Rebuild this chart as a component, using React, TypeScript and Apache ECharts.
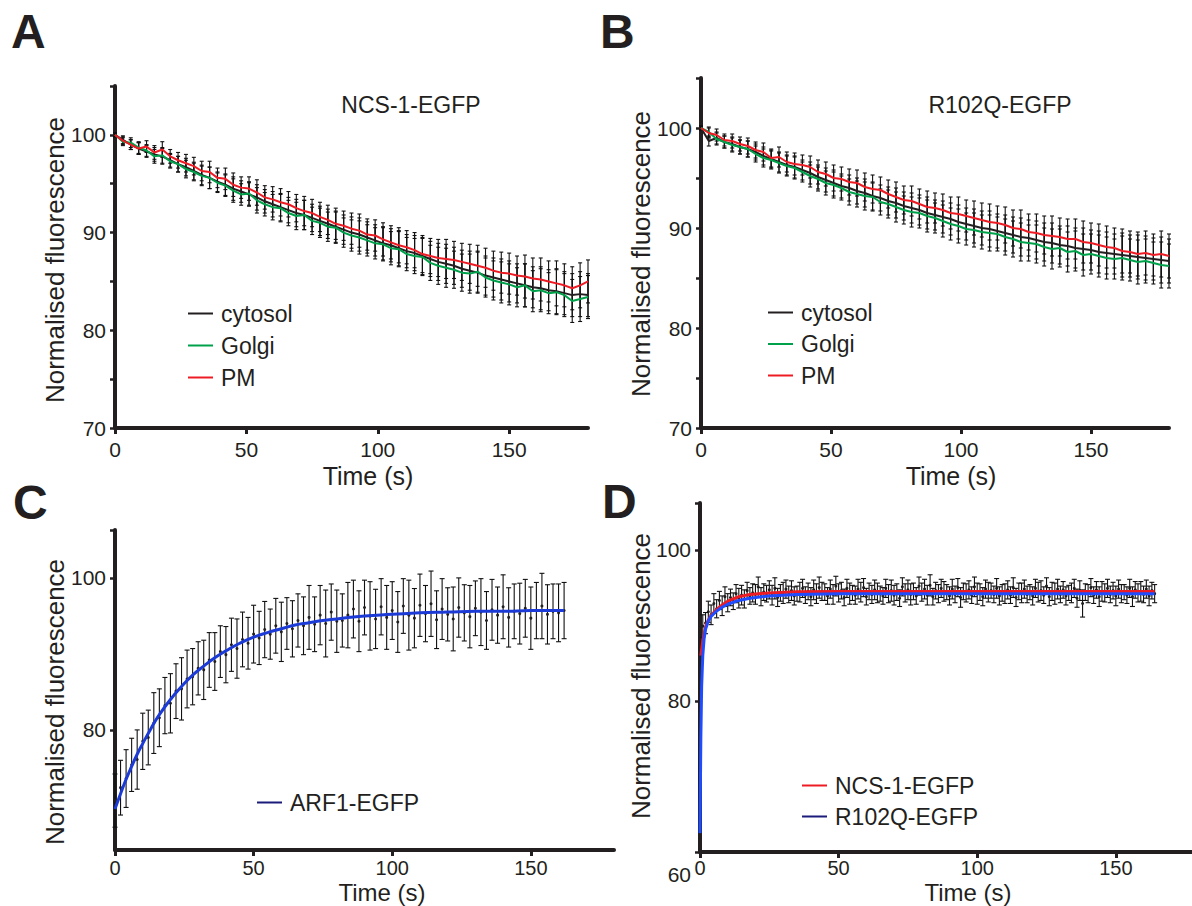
import React, { useEffect, useRef } from "react";
import * as echarts from "echarts";

// ---------- Panel A / B time base (s) ----------
const timeAB = [0,3,6,9,12,15,18,21,24,27,30,33,36,39,42,45,48,51,54,57,60,63,66,69,72,75,78,81,84,87,90,93,96,99,102,105,108,111,114,117,120,123,126,129,132,135,138,141,144,147,150,153,156,159,162,165,168,171,174,177,180];

// Panel A: NCS-1-EGFP
const aCytosol = [100.0,99.5,99.0,98.6,98.3,98.0,97.8,97.4,97.0,96.7,96.3,95.9,95.6,95.2,94.9,94.5,94.2,93.9,93.6,93.2,92.9,92.6,92.3,92.0,91.8,91.5,91.2,90.9,90.6,90.3,90.0,89.8,89.5,89.2,88.9,88.7,88.4,88.1,87.9,87.6,87.3,87.0,86.8,86.6,86.3,86.1,85.9,85.6,85.4,85.2,85.0,84.8,84.6,84.4,84.3,84.1,84.0,83.8,83.6,83.7,83.6];
const aGolgi = [100.0,99.3,99.2,98.7,98.4,97.8,97.9,97.3,97.0,96.5,96.2,95.8,95.6,95.1,94.8,94.3,93.9,94.0,93.3,92.9,92.6,92.5,92.0,91.7,91.8,91.2,91.0,90.6,90.5,90.0,89.7,89.5,89.2,88.9,88.8,88.4,88.3,87.8,87.6,87.5,86.9,86.6,86.4,86.2,85.9,85.8,86.0,85.4,85.1,84.9,84.7,84.4,84.6,84.0,84.1,83.8,83.9,83.6,83.0,83.2,83.4];
const aPM = [100.0,99.4,99.0,98.6,98.8,98.2,98.5,97.8,97.4,97.1,96.8,96.3,96.2,95.6,95.5,94.9,94.6,94.5,94.1,93.6,93.4,93.1,92.9,92.5,92.2,92.0,91.6,91.3,90.9,90.7,90.4,90.2,89.8,89.7,89.3,89.0,88.7,88.5,88.2,87.8,87.6,87.4,87.3,87.2,87.0,86.8,86.6,86.4,86.1,85.9,85.8,85.6,85.5,85.3,85.2,85.0,84.8,84.6,84.3,84.6,85.0];
const aSem = [0.2,0.4,0.5,0.6,0.6,0.7,0.8,0.7,0.8,0.9,0.9,1.0,1.1,1.0,1.1,1.2,1.1,1.2,1.3,1.2,1.3,1.4,1.3,1.4,1.5,1.4,1.5,1.5,1.6,1.5,1.6,1.7,1.6,1.6,1.7,1.7,1.8,1.7,1.8,1.9,1.8,1.9,2.0,1.9,1.9,2.0,2.1,2.0,2.0,2.1,2.1,2.0,2.2,2.1,2.2,2.1,2.3,2.2,2.2,2.3,2.2];

// Panel B: R102Q-EGFP
const bCytosol = [100.0,98.7,99.0,98.6,98.4,98.1,97.9,97.6,97.2,96.9,96.6,96.3,96.1,95.8,95.5,95.1,94.8,94.5,94.2,94.0,93.7,93.5,93.2,93.0,92.7,92.5,92.2,92.0,91.8,91.5,91.3,91.1,90.9,90.6,90.4,90.2,90.0,89.9,89.7,89.5,89.3,89.1,89.0,88.8,88.6,88.5,88.3,88.2,88.0,87.9,87.8,87.6,87.5,87.4,87.3,87.2,87.1,87.0,86.9,86.8,86.7];
const bGolgi = [100.0,99.6,98.9,98.6,98.3,98.1,97.9,97.4,97.0,96.8,96.5,96.2,96.0,95.6,95.2,94.9,94.5,94.3,94.0,93.6,93.4,93.2,93.1,92.6,92.4,92.1,91.8,91.6,91.5,91.2,91.0,90.7,90.4,90.2,89.9,89.8,89.6,89.5,89.4,89.1,88.9,88.6,88.5,88.4,88.1,87.9,88.0,87.6,87.7,87.3,87.4,87.2,87.0,86.9,87.0,86.8,86.6,86.7,86.5,86.3,86.2];
const bPM = [100.0,99.5,99.3,98.8,98.7,98.4,98.2,97.8,97.6,97.0,97.1,96.6,96.4,96.3,96.1,95.6,95.4,95.0,94.9,94.6,94.5,94.1,93.9,93.8,93.4,93.1,92.8,92.7,92.4,92.1,92.0,91.8,91.5,91.4,91.2,91.0,90.8,90.6,90.5,90.3,90.0,89.9,89.6,89.5,89.3,89.2,89.1,88.9,88.9,88.6,88.5,88.3,88.1,88.0,87.7,87.6,87.4,87.5,87.3,87.4,87.2];
const bSem = [0.2,0.5,0.6,0.6,0.7,0.7,0.8,0.8,0.9,0.9,1.0,1.0,1.1,1.0,1.1,1.2,1.2,1.3,1.2,1.3,1.3,1.4,1.4,1.3,1.4,1.5,1.4,1.5,1.5,1.6,1.5,1.6,1.6,1.7,1.6,1.7,1.7,1.8,1.7,1.8,1.8,1.9,1.8,1.9,1.9,2.0,1.9,2.0,2.0,2.1,2.0,2.1,2.1,2.0,2.2,2.1,2.2,2.2,2.1,2.3,2.2];

// Panel C: ARF1-EGFP
const timeC = [0,2,4,6,8,10,12,14,16,18,20,22,24,26,28,30,32,34,36,38,40,42,44,46,48,50,52,54,56,58,60,62,64,66,68,70,72,74,76,78,80,82,84,86,88,90,92,94,96,98,100,102,104,106,108,110,112,114,116,118,120,122,124,126,128,130,132,134,136,138,140,142,144,146,148,150,152,154,156,158,160,162];
const cMean = [70.7,72.4,73.6,75.4,76.1,78.5,79.0,80.9,81.6,83.2,83.5,85.1,85.4,86.7,87.0,88.1,87.9,89.2,89.0,90.3,89.9,91.2,90.7,91.9,91.4,92.6,92.1,93.2,92.6,93.7,92.9,94.0,93.3,94.4,93.7,94.8,93.9,95.1,94.0,95.5,94.3,94.4,95.1,95.9,94.3,96.1,95.0,94.6,96.2,94.8,95.7,94.2,96.3,95.1,94.7,96.4,95.3,96.6,94.5,95.9,95.2,94.6,96.1,95.4,94.9,96.0,95.5,94.4,95.8,95.1,96.2,94.8,95.6,95.3,96.0,94.7,95.7,96.3,95.2,95.6,95.4,95.7];
const cSem = [3.5,3.6,3.8,3.5,3.9,3.7,3.6,4.0,3.8,3.7,3.9,3.6,4.1,3.8,3.7,3.5,3.9,3.6,3.8,3.4,3.7,3.5,3.9,3.6,3.4,3.8,3.5,3.7,3.3,3.6,3.9,3.4,3.7,3.5,3.8,4.2,3.6,3.9,4.4,3.7,4.1,3.5,4.3,3.8,4.0,3.6,4.5,3.9,3.7,4.2,3.8,4.0,3.6,4.6,3.9,4.1,3.7,4.3,3.8,4.0,3.5,4.2,3.9,3.7,4.1,3.6,4.4,3.8,4.0,3.7,4.2,3.9,3.6,4.0,3.8,4.1,3.7,4.3,3.9,3.6,3.8,3.7];
const cFitTime = [0,2,4,6,8,10,13,16,20,24,28,32,36,40,45,50,55,60,65,70,75,80,90,100,110,120,130,140,150,162];
const cFit = [69.6,71.6,73.5,75.2,76.8,78.2,80.2,82.0,84.0,85.7,87.2,88.4,89.5,90.4,91.4,92.2,92.8,93.3,93.8,94.1,94.4,94.6,95.0,95.2,95.4,95.5,95.6,95.6,95.7,95.7];

// Panel D: NCS-1-EGFP vs R102Q-EGFP
const dNcsTime = [1,3,5,7,9,11,13,15,17,19,21,23,25,27,29,31,33,35,37,39,41,43,45,47,49,51,53,55,57,59,61,63,65,67,69,71,73,75,77,79,81,83,85,87,89,91,93,95,97,99,101,103,105,107,109,111,113,115,117,119,121,123,125,127,129,131,133,135,137,139,141,143,145,147,149,151,153,155,157,159,161,163];
const dNcsMean = [89.9,91.8,92.9,93.3,93.8,93.7,94.2,94.0,94.6,94.3,95.1,94.4,94.7,94.9,94.3,94.8,94.6,94.2,94.9,94.5,94.7,95.0,94.4,94.8,95.2,94.6,94.9,94.3,94.8,95.0,94.5,94.7,94.2,94.9,94.6,94.4,95.1,94.7,94.5,95.2,94.8,95.3,94.6,94.9,94.4,94.8,95.0,94.5,94.7,95.1,94.4,94.8,94.6,94.9,94.3,94.7,95.0,94.5,94.8,94.4,94.9,94.6,95.2,94.5,94.8,94.7,94.3,94.9,94.6,94.4,95.0,94.7,94.5,94.9,94.6,94.8,94.4,94.9,94.7,94.5,94.8,94.6];
const dNcsSem = [1.5,1.4,1.3,1.2,1.3,1.1,1.2,1.3,1.1,1.2,1.3,1.1,1.2,1.4,1.1,1.2,1.3,1.0,1.2,1.1,1.3,1.4,1.1,1.2,1.3,1.1,1.2,1.0,1.3,1.2,1.1,1.3,1.0,1.2,1.4,1.1,1.2,1.3,1.1,1.2,1.3,1.4,1.1,1.2,1.0,1.3,1.2,1.1,1.2,1.3,1.1,1.2,1.0,1.3,1.1,1.2,1.3,1.1,1.2,1.0,1.2,1.3,1.1,1.2,1.3,1.1,1.0,1.2,1.3,1.1,1.2,1.1,1.3,1.2,1.1,1.2,1.0,1.2,1.1,1.3,1.2,1.1];
const dR102Time = [2,4,6,8,10,12,14,16,18,20,22,24,26,28,30,32,34,36,38,40,42,44,46,48,50,52,54,56,58,60,62,64,66,68,70,72,74,76,78,80,82,84,86,88,90,92,94,96,98,100,102,104,106,108,110,112,114,116,118,120,122,124,126,128,130,132,134,136,138,140,142,144,146,148,150,152,154,156,158,160,162,164];
const dR102Mean = [90.3,91.4,92.2,92.6,93.0,93.2,93.6,93.5,93.9,94.1,93.8,94.2,94.0,93.7,94.3,94.1,93.9,94.4,94.0,93.8,94.2,94.5,93.9,94.1,94.3,93.7,94.2,94.0,94.4,93.8,94.1,94.3,93.9,94.2,94.0,93.6,94.3,94.1,93.9,94.4,94.0,93.8,94.2,94.5,93.9,94.1,93.7,94.3,94.0,94.2,93.8,94.4,94.1,93.9,94.2,94.0,93.7,94.3,94.1,93.9,94.4,94.0,93.8,94.2,94.1,93.9,94.3,93.6,92.9,94.2,94.0,93.8,94.3,94.1,93.9,94.2,94.0,93.8,94.3,94.1,93.9,94.2];
const dR102Sem = [1.4,1.3,1.2,1.3,1.2,1.1,1.3,1.2,1.1,1.3,1.2,1.1,1.3,1.2,1.4,1.1,1.2,1.3,1.1,1.2,1.3,1.2,1.1,1.3,1.2,1.1,1.4,1.2,1.3,1.1,1.2,1.3,1.1,1.2,1.3,1.1,1.2,1.4,1.1,1.2,1.3,1.1,1.2,1.3,1.2,1.1,1.3,1.2,1.1,1.4,1.2,1.3,1.1,1.2,1.3,1.1,1.2,1.3,1.1,1.2,1.3,1.1,1.2,1.4,1.1,1.2,1.3,1.2,1.8,1.2,1.1,1.3,1.2,1.1,1.3,1.2,1.1,1.3,1.2,1.1,1.3,1.2];
const dNcsFitTime = [0.3,1,2,3,4,6,8,10,14,18,25,35,50,100,164];
const dNcsFit = [86.0,88.0,89.8,90.7,91.3,92.1,92.7,93.2,93.8,94.1,94.3,94.45,94.5,94.5,94.5];
const dR102FitTime = [0,0.3,0.6,1,1.5,2,3,4,6,8,10,14,18,25,35,50,100,164];
const dR102Fit = [62.5,75.0,82.0,86.0,88.3,89.5,90.6,91.2,91.9,92.4,92.8,93.3,93.6,93.9,94.1,94.2,94.2,94.2];

// Tick labels
const xTickValues = [0, 50, 100, 150];
const abYTicks = [70, 75, 80, 85, 90, 95, 100, 105];
const abYLabels = [70, 80, 90, 100];
const cYLabels = [80, 100];
const dYLabels = [60, 80, 100];

const FONT = "'Liberation Sans', Arial, Helvetica, sans-serif";
const INK = "#231f20";
const RED = "#ed1c24";
const GREEN = "#00a14b";
const BLUE_C = "#1c3bd6";
const BLUE_D = "#1f4cff";
const NAVY = "#1b1b7a";

const zip = (t: number[], v: number[]) => t.map((x, i) => [x, v[i]]);
const zip3 = (t: number[], v: number[], e: number[]) => t.map((x, i) => [x, v[i], e[i]]);

function errRender(cap: number, dot: boolean) {
  return (params: any, api: any) => {
    const x = api.value(0), y = api.value(1), e = api.value(2);
    const top = api.coord([x, y + e]);
    const bot = api.coord([x, y - e]);
    const mid = api.coord([x, y]);
    const style = { stroke: "#111111", lineWidth: 1.1 };
    const children: any[] = [
      { type: "line", shape: { x1: top[0], y1: top[1], x2: bot[0], y2: bot[1] }, style },
      { type: "line", shape: { x1: top[0] - cap, y1: top[1], x2: top[0] + cap, y2: top[1] }, style },
      { type: "line", shape: { x1: bot[0] - cap, y1: bot[1], x2: bot[0] + cap, y2: bot[1] }, style },
    ];
    if (dot) children.push({ type: "circle", shape: { cx: mid[0], cy: mid[1], r: 1.5 }, style: { fill: INK } });
    return { type: "group", children };
  };
}

function errSeries(idx: number, data: number[][], cap: number, dot: boolean, name: string) {
  return {
    type: "custom", name, xAxisIndex: idx, yAxisIndex: idx, coordinateSystem: "cartesian2d",
    renderItem: errRender(cap, dot), data, encode: { x: 0, y: 1 }, z: 1, silent: true,
  };
}

function lineSeries(idx: number, name: string, data: number[][], color: string, width: number, smooth = false) {
  return {
    type: "line", name, xAxisIndex: idx, yAxisIndex: idx, data, color, showSymbol: false, symbol: "none",
    smooth, lineStyle: { color, width }, z: 3, silent: true,
  };
}

function xAxis(idx: number, margin: number, fontSize: number) {
  return {
    gridIndex: idx, type: "value", min: 0, max: 180,
    axisLine: { show: true, onZero: false, lineStyle: { color: INK, width: 4 } },
    axisTick: { show: true, customValues: xTickValues, length: 6, lineStyle: { color: INK, width: 3 } },
    axisLabel: { show: true, customValues: xTickValues, color: INK, fontSize, fontFamily: FONT, margin },
    splitLine: { show: false },
  };
}

function yAxis(idx: number, min: number, max: number, ticks: number[], labels: number[], extra: any = {}) {
  return {
    gridIndex: idx, type: "value", min, max,
    axisLine: { show: true, onZero: false, lineStyle: { color: INK, width: 4 } },
    axisTick: { show: true, customValues: ticks, length: 5, lineStyle: { color: INK, width: 2.5 } },
    axisLabel: { show: true, customValues: labels, color: INK, fontSize: 21, fontFamily: FONT, margin: 9, ...extra },
    splitLine: { show: false },
  };
}

function legend(left: number, top: number, gap: number, items: { name: string; color: string }[]) {
  return {
    left, top, orient: "vertical", icon: "rect", itemWidth: 25, itemHeight: 2, itemGap: gap,
    selectedMode: false,
    textStyle: { color: INK, fontSize: 23, fontFamily: FONT, lineHeight: 22, padding: [0, 0, 0, 3] },
    data: items.map((it) => ({ name: it.name, itemStyle: { color: it.color } })),
  };
}

function text(x: number, y: number, s: string, size: number, opts: any = {}) {
  return {
    type: "text", x, y, rotation: opts.rotation || 0, silent: true,
    style: {
      text: s, fontSize: size, fontFamily: FONT, fontWeight: opts.bold ? "bold" : "normal", fill: INK,
      align: opts.align || "center", verticalAlign: "middle",
    },
  };
}

const option: any = {
  animation: false,
  backgroundColor: "#ffffff",
  grid: [
    { left: 115, top: 86, width: 473, height: 342, containLabel: false, outerBoundsMode: "none" },
    { left: 701, top: 78, width: 468, height: 350, containLabel: false, outerBoundsMode: "none" },
    { left: 115, top: 530, width: 499, height: 320, containLabel: false, outerBoundsMode: "none" },
    { left: 700, top: 503, width: 499, height: 349, containLabel: false, outerBoundsMode: "none" },
  ],
  xAxis: [xAxis(0, 11, 21), xAxis(1, 11, 21), xAxis(2, 7.5, 20), xAxis(3, 5.5, 20)],
  yAxis: [
    yAxis(0, 70, 105, abYTicks, abYLabels),
    yAxis(1, 70, 105, abYTicks, abYLabels),
    yAxis(2, 64.2, 106.3, [80, 100, 106.3], cYLabels),
    yAxis(3, 60, 106.2, [60, 80, 100, 106.2], dYLabels, {
      formatter: (v: number) => (v === 60 ? "{low|60}" : String(v)),
      rich: { low: { padding: [44, 0, 0, 0], fontSize: 21, fontFamily: FONT, color: INK } },
    }),
  ],
  legend: [
    legend(183, 297, 9, [{ name: "cytosol", color: INK }, { name: "Golgi", color: GREEN }, { name: "PM", color: RED }]),
    legend(763, 296, 8.5, [{ name: "cytosol", color: INK }, { name: "Golgi", color: GREEN }, { name: "PM", color: RED }]),
    legend(252, 786, 8, [{ name: "ARF1-EGFP", color: NAVY }]),
    legend(797, 769, 8, [{ name: "NCS-1-EGFP", color: RED }, { name: "R102Q-EGFP", color: NAVY }]),
  ],
  graphic: [
    text(11, 31, "A", 48, { bold: true, align: "left" }),
    text(600, 31, "B", 48, { bold: true, align: "left" }),
    text(13, 502, "C", 48, { bold: true, align: "left" }),
    text(602, 501, "D", 48, { bold: true, align: "left" }),
    text(411, 105, "NCS-1-EGFP", 23),
    text(1000, 105, "R102Q-EGFP", 23),
    text(55, 260, "Normalised fluorescence", 26, { rotation: Math.PI / 2 }),
    text(641, 254, "Normalised fluorescence", 26, { rotation: Math.PI / 2 }),
    text(55, 702, "Normalised fluorescence", 26, { rotation: Math.PI / 2 }),
    text(641, 676, "Normalised fluorescence", 26, { rotation: Math.PI / 2 }),
    text(368, 476, "Time (s)", 25),
    text(951, 476, "Time (s)", 25),
    text(382, 892.5, "Time (s)", 24),
    text(968, 892.5, "Time (s)", 24),
  ],
  series: [
    // A
    errSeries(0, zip3(timeAB, aCytosol, aSem), 2, false, "A cytosol SEM"),
    errSeries(0, zip3(timeAB, aGolgi, aSem), 2, false, "A Golgi SEM"),
    errSeries(0, zip3(timeAB, aPM, aSem), 2, false, "A PM SEM"),
    lineSeries(0, "cytosol", zip(timeAB, aCytosol), INK, 2),
    lineSeries(0, "Golgi", zip(timeAB, aGolgi), GREEN, 2),
    lineSeries(0, "PM", zip(timeAB, aPM), RED, 2),
    // B
    errSeries(1, zip3(timeAB, bCytosol, bSem), 2, false, "B cytosol SEM"),
    errSeries(1, zip3(timeAB, bGolgi, bSem), 2, false, "B Golgi SEM"),
    errSeries(1, zip3(timeAB, bPM, bSem), 2, false, "B PM SEM"),
    lineSeries(1, "cytosol", zip(timeAB, bCytosol), INK, 2),
    lineSeries(1, "Golgi", zip(timeAB, bGolgi), GREEN, 2),
    lineSeries(1, "PM", zip(timeAB, bPM), RED, 2),
    // C
    errSeries(2, zip3(timeC, cMean, cSem), 2.5, true, "ARF1 data"),
    lineSeries(2, "ARF1-EGFP", zip(cFitTime, cFit), BLUE_C, 3, true),
    // D
    errSeries(3, zip3(dNcsTime, dNcsMean, dNcsSem), 2.5, true, "NCS-1 data"),
    errSeries(3, zip3(dR102Time, dR102Mean, dR102Sem), 2.5, true, "R102Q data"),
    lineSeries(3, "NCS-1-EGFP", zip(dNcsFitTime, dNcsFit), RED, 3),
    lineSeries(3, "R102Q-EGFP", zip(dR102FitTime, dR102Fit), BLUE_D, 3),
  ],
};

export default function App() {
  const ref = useRef<HTMLDivElement>(null);
  useEffect(() => {
    document.body.style.margin = "0";
    document.body.style.overflow = "hidden";
    const chart = echarts.init(ref.current as HTMLDivElement, null, { renderer: "svg" });
    chart.setOption(option);
    return () => chart.dispose();
  }, []);
  return <div ref={ref} style={{ width: 1192, height: 906 }} />;
}
